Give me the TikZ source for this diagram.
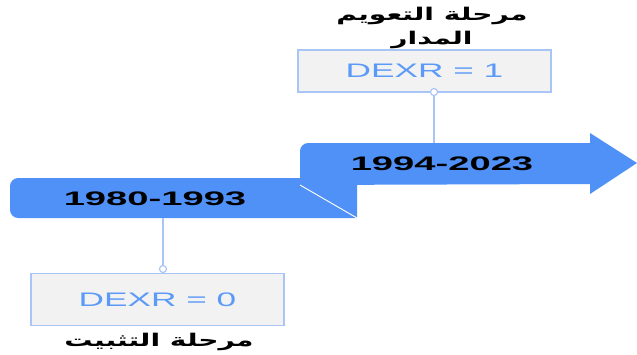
\documentclass[tikz,border=0pt]{standalone}
\usepackage{fontspec}
\setmainfont{Liberation Sans}
\newfontfamily\arabicfont[Script=Arabic]{DejaVu Sans}
\TeXXeTstate=1
\usetikzlibrary{positioning}
\definecolor{cband}{HTML}{5091F8}
\definecolor{cedge}{HTML}{A9C5F5}
\definecolor{cfill}{HTML}{F2F2F2}
\definecolor{ctext}{HTML}{5C9AF7}
\tikzset{
  every picture/.style={line width=0.8pt},
  period/.style={font=\fontsize{16.7}{20}\selectfont\bfseries, text=black, inner sep=0pt},
  ratebox/.style={draw=cedge, fill=cfill, line width=1.5pt, minimum width=7.59cm, minimum height=1.26cm,
    font=\fontsize{16.7}{20}\selectfont, text=ctext},
  phase/.style={font=\arabicfont\bfseries\fontsize{15}{18}\selectfont, align=center, inner sep=0pt},
  stem/.style={draw=cedge, line width=2.2pt},
  stemdot/.style={circle, draw=cedge, fill=white, line width=1pt, inner sep=0pt, minimum size=6pt},
}

\begin{document}
\begin{tikzpicture}[x=0.03cm, y=-0.03cm]
  \useasboundingbox (0,0) rectangle (637,354);
  % lower band, then the upper arrow laid over it
  \fill[cband] (357,218) -- (357,178) [rounded corners=7pt] -- (10,178) -- (10,218) [sharp corners] -- cycle;
  \fill[cband] (300,185) [rounded corners=7pt] -- (300,143) [sharp corners] -- (590,143) -- (590,133)
    -- (637,163) -- (590,194) -- (590,184) -- cycle;
  \draw[white] (300,185) -- (357,218);
  \node[period] (late) at (442,164) {\scalebox{1.95}[1]{1994-2023}};
  \node[period] (early) at (155,199) {\scalebox{1.95}[1]{1980-1993}};
  % boxes with their stems
  \node[ratebox] (float) at (424.5,71) {\scalebox{1.8}[1]{DEXR = 1}};
  \node[ratebox, minimum height=1.56cm] (peg) at (157.5,299.5) {\scalebox{1.8}[1]{DEXR = 0}};
  \coordinate (floatband) at (434,143);
  \coordinate (pegband) at (163,218);
  \draw[stem] (floatband) -- (434,92) node[stemdot] (floatdot) {};
  \draw[stem] (pegband) -- (163,269) node[stemdot] (pegdot) {};
  \node[phase] (floatname) at (432,28) {\scalebox{1.6}[1]{\beginR مرحلة التعويم\endR}\\[2pt]\scalebox{1.6}[1]{\beginR المدار\endR}};
  \node[phase] (pegname) at (159,342) {\scalebox{1.6}[1]{\beginR مرحلة التثبيت\endR}};
\end{tikzpicture}
\end{document}
